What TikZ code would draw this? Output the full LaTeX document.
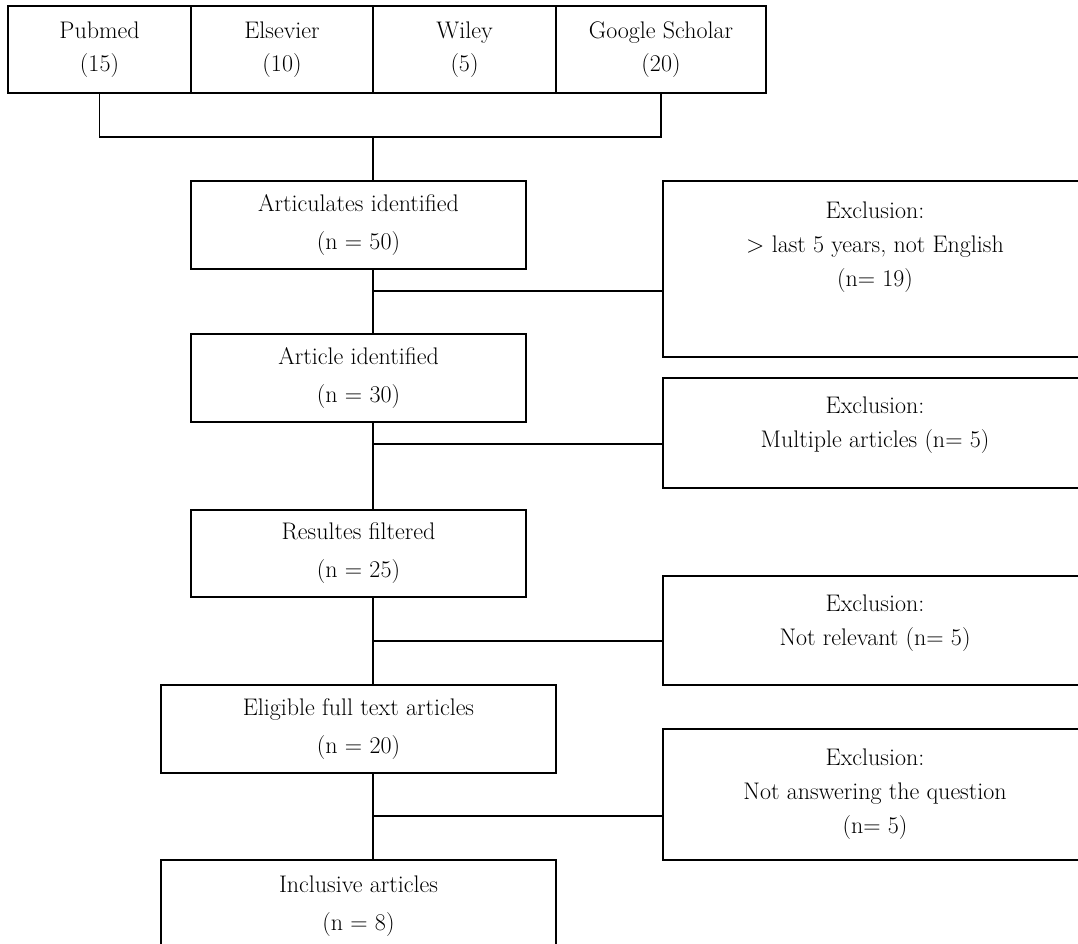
\documentclass[tikz,border=0pt]{standalone}
\usetikzlibrary{calc}
\begin{document}
\begin{tikzpicture}[x=1pt,y=-1pt,
  line width=1.8pt,
  base/.style={draw, line width=1.8pt, inner sep=0pt, align=center,
    font=\fontsize{24}{33}\selectfont,
    execute at begin node={\rule{0pt}{25pt}}},
  topbox/.style={base, minimum height=87pt},
  mainbox/.style={base, font=\fontsize{24}{38}\selectfont, minimum width=335pt, minimum height=88pt},
  widebox/.style={mainbox, minimum width=395pt},
  exbox/.style={draw, line width=1.8pt, inner sep=0pt, minimum width=424pt},
  extext/.style={inner sep=0pt, align=center, font=\fontsize{24}{34}\selectfont}]
\useasboundingbox (0,0) rectangle (1078,943);
\clip (0,0) rectangle (1078,943);
\fill[white] (0,0) rectangle (1078,943);

% top row
\node[topbox, minimum width=183pt] (pub) at (99.5,49.5) {Pubmed\\(15)};
\node[topbox, minimum width=182pt] (els) at (282,49.5) {Elsevier\\(10)};
\node[topbox, minimum width=183pt] (wil) at (464.5,49.5) {Wiley\\(5)};
\node[topbox, minimum width=210pt] (goo) at (661,49.5) {Google Scholar\\(20)};

% main column
\node[mainbox] (a1) at (358.5,225) {Articulates identified\\(n = 50)};
\node[mainbox] (a2) at (358.5,378) {Article identified\\(n = 30)};
\node[mainbox, minimum height=87pt] (a3) at (358.5,553.5) {Resultes filtered\\(n = 25)};
\node[widebox] (a4) at (358.5,729) {Eligible full text articles\\(n = 20)};
\node[widebox, minimum height=92pt] (a5) at (358.5,906) {Inclusive articles\\(n = 8)};

% exclusion boxes
\node[exbox, minimum height=176pt] (e1) at (875,269) {};
\node[extext] (t1) at (875,247) {Exclusion:\\> last 5 years, not English\\(n= 19)};
\node[exbox, minimum height=110pt] (e2) at (875,433) {};
\node[extext] (t2) at (875,425) {Exclusion:\\Multiple articles (n= 5)};
\node[exbox, minimum height=109pt] (e3) at (875,630.5) {};
\node[extext] (t3) at (875,623) {Exclusion:\\Not relevant (n= 5)};
\node[exbox, minimum height=131pt] (e4) at (875,794.5) {};
\node[extext] (t4) at (875,794) {Exclusion:\\Not answering the question\\(n= 5)};

% spine and junctions
\coordinate (sp) at (373,0);
\coordinate (bus) at (0,137);
\coordinate (j1) at (373,291);
\coordinate (j2) at (373,444);
\coordinate (j3) at (373,641);
\coordinate (j4) at (373,816);

% bus from sources
\draw (pub.south) -- (pub.south |- bus) -- (goo.south |- bus) -- (goo.south);
\draw (sp |- bus) -- (a1.north -| sp);

% vertical spine
\draw (a1.south -| sp) -- (a2.north -| sp);
\draw (a2.south -| sp) -- (a3.north -| sp);
\draw (a3.south -| sp) -- (a4.north -| sp);
\draw (a4.south -| sp) -- (a5.north -| sp);

% side connectors
\draw (j1) -- (j1 -| e1.west);
\draw (j2) -- (j2 -| e2.west);
\draw (j3) -- (j3 -| e3.west);
\draw (j4) -- (j4 -| e4.west);
\end{tikzpicture}
\end{document}
